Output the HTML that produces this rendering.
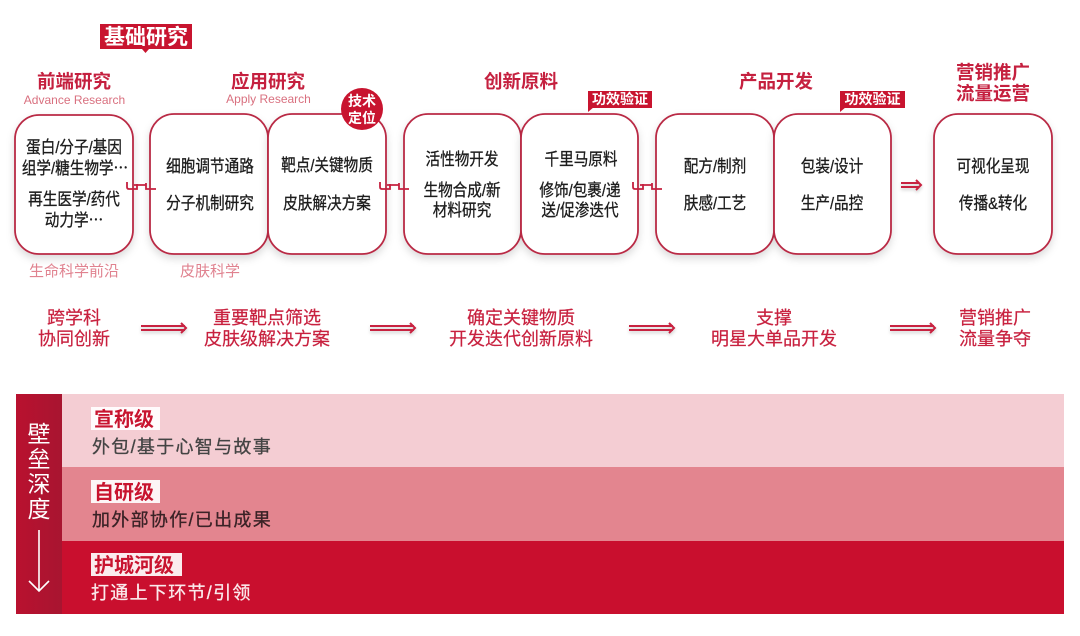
<!DOCTYPE html>
<html lang="zh"><head><meta charset="utf-8">
<style>
html,body{margin:0;padding:0;background:#fff;width:1080px;height:636px;overflow:hidden}
svg{display:block}
text{font-family:"Liberation Sans","Noto Sans CJK SC",sans-serif;text-anchor:middle}
.t{font-size:18.500px;font-weight:700;fill:#c5203f}
.e{font-size:12px;fill:#d9707f}
.b{font-size:17px;fill:#1c1c1c;stroke:#1c1c1c;stroke-width:.3px;transform-box:fill-box;transform-origin:center;transform:scaleX(.86)}
.s{font-size:15px;fill:#e0828f}
.m{font-size:18px;fill:#c8213f;stroke:#c8213f;stroke-width:.2px}
.lv{font-size:20px;font-weight:700;text-anchor:start}
.d{font-size:18px;letter-spacing:1.300px;text-anchor:start;stroke:currentColor;stroke-width:.3px}
.box{fill:#fff;stroke:#b92a45;stroke-width:1.800;filter:url(#sh)}
.ch{fill:none;stroke:#c5203f;stroke-width:1.800}
.ar{fill:none;stroke:#c8213f;stroke-width:2;filter:url(#sh2)}
</style></head><body>
<svg width="1080" height="636" viewBox="0 0 1080 636" xmlns="http://www.w3.org/2000/svg">
<defs>
<filter id="sh" x="-20%" y="-20%" width="140%" height="140%"><feDropShadow dx="0" dy="4" stdDeviation="4" flood-color="#000" flood-opacity=".14"/></filter>
<filter id="sh2" x="-20%" y="-200%" width="140%" height="500%"><feDropShadow dx="0" dy="2" stdDeviation="1.500" flood-color="#000" flood-opacity=".2"/></filter>
<linearGradient id="g" x1="0" x2="1" y1="0" y2="0"><stop offset="0" stop-color="#b9112f"/><stop offset="1" stop-color="#a81530"/></linearGradient>
</defs>

<!-- top tag -->
<rect x="100" y="24" width="92" height="25" fill="#c8142f"/>
<path d="M142 49h7l-3.500 4z" fill="#c8142f"/>
<text x="146" y="44" font-size="21" font-weight="700" fill="#fff">基础研究</text>

<!-- headings -->
<text class="t" x="74" y="88">前端研究</text>
<text class="e" x="74.500" y="104">Advance Research</text>
<text class="t" x="268" y="88">应用研究</text>
<text class="e" x="268.500" y="103">Apply Research</text>
<text class="t" x="521" y="88">创新原料</text>
<text class="t" x="776" y="88">产品开发</text>
<text class="t" x="993" y="79">营销推广</text>
<text class="t" x="993" y="100">流量运营</text>

<!-- boxes -->
<rect class="box" x="15" y="115" width="118" height="139" rx="24"/>
<rect class="box" x="150" y="114" width="118" height="140" rx="24"/>
<rect class="box" x="268" y="114" width="118" height="140" rx="24"/>
<rect class="box" x="404" y="114" width="117" height="140" rx="24"/>
<rect class="box" x="521" y="114" width="117" height="140" rx="24"/>
<rect class="box" x="656" y="114" width="118" height="140" rx="24"/>
<rect class="box" x="774" y="114" width="117" height="140" rx="24"/>
<rect class="box" x="934" y="114" width="118" height="140" rx="24"/>

<!-- chain connectors -->
<g class="ch">
<path d="M127 182v5q0 2 2 2h8v-5M134 185h12M146 183v6h10"/>
<path d="M380 182v5q0 2 2 2h8v-5M387 185h12M399 183v6h10"/>
<path d="M633 182v5q0 2 2 2h8v-5M640 185h12M652 183v6h10"/>
</g>

<!-- circle badge -->
<circle cx="362" cy="109" r="21" fill="#c8142f"/>
<text x="362" y="106" font-size="14" font-weight="700" fill="#fff">技术</text>
<text x="362" y="123" font-size="14" font-weight="700" fill="#fff">定位</text>

<!-- small tags -->
<rect x="588" y="91" width="64" height="17" fill="#c8142f"/><path d="M588 107h6l-6 5z" fill="#c8142f"/>
<text x="620" y="104" font-size="14" font-weight="700" fill="#fff">功效验证</text>
<rect x="840" y="91" width="65" height="17" fill="#c8142f"/><path d="M840 107h6l-6 5z" fill="#c8142f"/>
<text x="872.500" y="104" font-size="14" font-weight="700" fill="#fff">功效验证</text>

<!-- box text -->
<text class="b" x="74" y="153">蛋白/分子/基因</text>
<text class="b" x="75" y="174">组学/糖生物学⋯</text>
<text class="b" x="74" y="205">再生医学/药代</text>
<text class="b" x="74" y="226">动力学⋯</text>
<text class="b" x="210" y="172">细胞调节通路</text>
<text class="b" x="210" y="209">分子机制研究</text>
<text class="b" x="327" y="171">靶点/关键物质</text>
<text class="b" x="327" y="209">皮肤解决方案</text>
<text class="b" x="462" y="165">活性物开发</text>
<text class="b" x="462" y="196">生物合成/新</text>
<text class="b" x="462" y="216">材料研究</text>
<text class="b" x="581" y="165">千里马原料</text>
<text class="b" x="580" y="196">修饰/包裹/递</text>
<text class="b" x="580" y="216">送/促渗迭代</text>
<text class="b" x="715" y="172">配方/制剂</text>
<text class="b" x="715" y="209">肤感/工艺</text>
<text class="b" x="832" y="172">包装/设计</text>
<text class="b" x="832" y="209">生产/品控</text>
<text class="b" x="993" y="172">可视化呈现</text>
<text class="b" x="993" y="209">传播&amp;转化</text>

<text class="s" x="74" y="276">生命科学前沿</text>
<text class="s" x="210" y="276">皮肤科学</text>

<path class="ar" d="M901 183h18M901 187h18M916 180l5 5-5 5"/>

<!-- middle row -->
<text class="m" x="74" y="324">跨学科</text>
<text class="m" x="74" y="345">协同创新</text>
<text class="m" x="267" y="324">重要靶点筛选</text>
<text class="m" x="267" y="345">皮肤级解决方案</text>
<text class="m" x="521" y="324">确定关键物质</text>
<text class="m" x="521" y="345">开发迭代创新原料</text>
<text class="m" x="774" y="324">支撑</text>
<text class="m" x="774" y="345">明星大单品开发</text>
<text class="m" x="995" y="324">营销推广</text>
<text class="m" x="995" y="345">流量争夺</text>
<path class="ar" d="M141 326h44M141 330h44M181 323l5 5-5 5"/>
<path class="ar" d="M370 326h44M370 330h44M410 323l5 5-5 5"/>
<path class="ar" d="M629 326h44M629 330h44M669 323l5 5-5 5"/>
<path class="ar" d="M890 326h44M890 330h44M930 323l5 5-5 5"/>

<!-- bottom -->
<rect x="62" y="394" width="1002" height="73" fill="#f4cdd3"/>
<rect x="62" y="467" width="1002" height="74" fill="#e3858f"/>
<rect x="62" y="541" width="1002" height="73" fill="#c90f2e"/>
<rect x="16" y="394" width="46" height="220" fill="url(#g)"/>
<g font-size="23" fill="#fff">
<text x="39" y="442">壁</text><text x="39" y="467">垒</text><text x="39" y="492">深</text><text x="39" y="517">度</text>
</g>
<path d="M39 530v60M29 581l10 10 10-10" fill="none" stroke="#fff" stroke-width="1.600"/>

<rect x="91" y="407" width="69" height="23" fill="#fff" fill-opacity=".92"/>
<text class="lv" x="94" y="426" fill="#c8142f">宣称级</text>
<text class="d" x="92" y="453" fill="#444" color="#444">外包/基于心智与故事</text>
<rect x="91" y="480" width="69" height="23" fill="#fff" fill-opacity=".92"/>
<text class="lv" x="94" y="499" fill="#c8142f">自研级</text>
<text class="d" x="92" y="526" fill="#3a2226" color="#3a2226">加外部协作/已出成果</text>
<rect x="91" y="553" width="91" height="23" fill="#fff" fill-opacity=".92"/>
<text class="lv" x="94" y="572" fill="#c8142f">护城河级</text>
<text class="d" x="91" y="599" fill="#fbeaec" color="#fbeaec">打通上下环节/引领</text>
</svg>
</body></html>
